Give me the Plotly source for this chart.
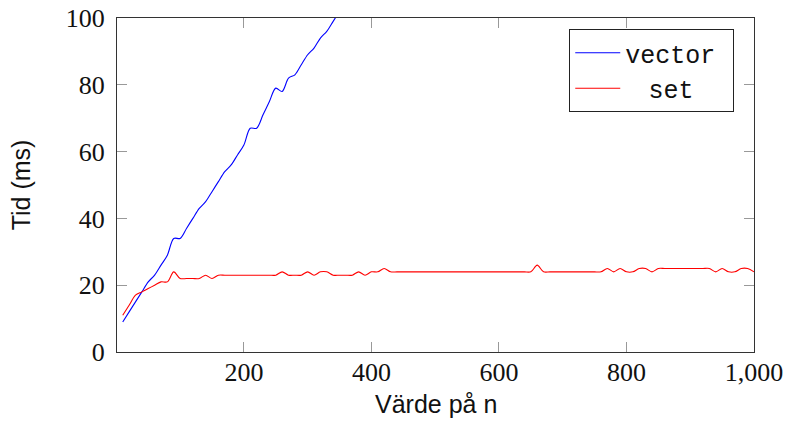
import plotly.graph_objects as go

n_vector = [10, 20, 30, 40, 50, 60, 70, 80, 90, 100, 110, 120, 130, 140, 150, 160, 170,
            180, 190, 200, 210, 220, 230, 240, 250, 260, 270, 280, 290, 300, 310, 320,
            330, 340, 350, 360]
t_vector = [9, 12, 15, 18, 21, 23, 26, 29, 34, 34, 37, 40, 43, 45, 48, 51, 54,
            56, 59, 62, 67, 67, 71, 75, 79, 78, 82, 83, 86, 89, 91, 94,
            96, 99, 102, 105]

n_set = list(range(10, 1001, 10))
t_set = [11, 14, 17, 18, 19, 20, 21, 21, 24, 22,   # 10-100
         22, 22, 22, 23, 22, 23, 23, 23, 23, 23,   # 110-200
         23, 23, 23, 23, 23, 24, 23, 23, 23, 24,   # 210-300
         23, 24, 24, 23, 23, 23, 23, 24, 23, 24,   # 310-400
         24, 25, 24, 24, 24, 24, 24, 24, 24, 24,   # 410-500
         24, 24, 24, 24, 24, 24, 24, 24, 24, 24,   # 510-600
         24, 24, 24, 24, 24, 26, 24, 24, 24, 24,   # 610-700
         24, 24, 24, 24, 24, 24, 25, 24, 25, 24,   # 710-800
         24, 25, 25, 24, 25, 25, 25, 25, 25, 25,   # 810-900
         25, 25, 25, 24, 25, 24, 24, 25, 25, 24]   # 910-1000

x_ticks = [200, 400, 600, 800, 1000]
x_tick_text = ["200", "400", "600", "800", "1,000"]
y_ticks = [0, 20, 40, 60, 80, 100]

fig = go.Figure()
fig.add_trace(go.Scatter(x=n_vector, y=t_vector, mode="lines", name="vector\u2002",
                         line=dict(color="#0000ff", width=1.1, shape="spline", smoothing=0.9)))
fig.add_trace(go.Scatter(x=n_set, y=t_set, mode="lines", name="\u00a0\u2004set",
                         line=dict(color="#ff0000", width=1.1, shape="spline", smoothing=0.9)))

axis_common = dict(
    showgrid=False, zeroline=False, showline=True, linecolor="#333333", linewidth=1,
    mirror="ticks", ticks="inside", ticklen=10, tickcolor="#999999", tickwidth=1,
    tickfont=dict(family="Liberation Serif", size=26, color="#111111"),
    automargin=False,
)

fig.update_layout(
    width=789, height=428,
    margin=dict(l=117, r=35, t=18, b=76),
    paper_bgcolor="white", plot_bgcolor="white",
    xaxis=dict(range=[1, 1000], tickvals=x_ticks, ticktext=x_tick_text,
               ticklabelstandoff=-3, **axis_common),
    yaxis=dict(range=[0, 100], tickvals=y_ticks,
               title=dict(text="Tid (ms)", standoff=28,
                          font=dict(family="Liberation Sans", size=25, color="#111111")),
               ticklabelstandoff=6, **axis_common),
    legend=dict(x=0.969, y=0.967, xanchor="right", yanchor="top",
                bgcolor="white", bordercolor="#222222", borderwidth=1,
                font=dict(family="Liberation Mono", size=25, color="#111111"),
                itemwidth=45, tracegroupgap=0),
    showlegend=True,
    annotations=[dict(text="Värde på n", xref="paper", yref="paper", x=0.5, y=-0.156,
                      xanchor="center", yanchor="middle", showarrow=False,
                      font=dict(family="Liberation Sans", size=25, color="#111111"))],
)

fig.write_html("out.html", post_script="document.body.style.margin='0';",
               config={"displayModeBar": False})
